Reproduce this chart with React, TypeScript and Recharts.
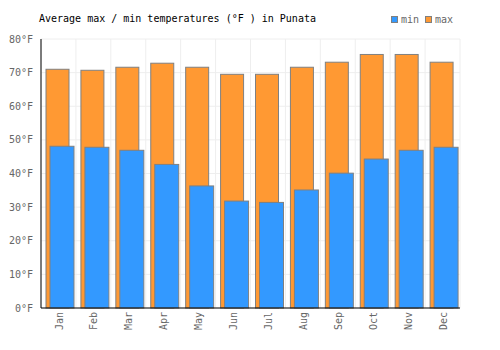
import { Bar, BarChart, CartesianGrid, XAxis, YAxis } from 'recharts'

const MONTHS = ['Jan', 'Feb', 'Mar', 'Apr', 'May', 'Jun', 'Jul', 'Aug', 'Sep', 'Oct', 'Nov', 'Dec']
const MAX_F = [71.0, 70.7, 71.6, 72.8, 71.6, 69.5, 69.5, 71.6, 73.1, 75.4, 75.4, 73.1]
const MIN_F = [48.1, 47.8, 46.9, 42.7, 36.3, 31.8, 31.4, 35.1, 40.1, 44.3, 46.9, 47.8]
const Y_TICKS = [0, 10, 20, 30, 40, 50, 60, 70, 80]

const BLUE = '#3399ff'
const ORANGE = '#ff9933'
const EDGE = '#808080'
const FONT = '"DejaVu Sans Mono", monospace'

const data = MONTHS.map((m, i) => ({ month: m, max: MAX_F[i], min: MIN_F[i] }))

// nudge the overlapped pair a bit to the right, like the original
function ShiftedBar(props: any) {
  const { x, y, width, height, fill } = props
  if (height == null || height <= 0) return null
  return <rect x={x + 2} y={y} width={width} height={height} fill={fill} stroke={EDGE} strokeWidth={1} />
}

function LegendItem({ color, label, left }: { color: string; label: string; left: number }) {
  return (
    <div style={{ position: 'absolute', left, top: 14, display: 'flex', alignItems: 'center', gap: 3 }}>
      <span style={{ width: 5, height: 5, background: color, border: `1px solid ${EDGE}` }} />
      <span>{label}</span>
    </div>
  )
}

export default function App() {
  return (
    <div style={{ position: 'fixed', left: 0, top: 0, width: 500, height: 350, background: '#fff', fontFamily: FONT }}>
      <div style={{ position: 'absolute', left: 39, top: 13, fontSize: 10, color: '#000' }}>
        Average max / min temperatures (°F ) in Punata
      </div>
      <div style={{ fontSize: 10, color: '#666' }}>
        <LegendItem color={BLUE} label="min" left={391} />
        <LegendItem color={ORANGE} label="max" left={425} />
      </div>
      <BarChart
        width={500}
        height={350}
        data={data}
        margin={{ top: 39, right: 40, bottom: 0, left: 0 }}
        barGap={-19}
        barCategoryGap={0}
        style={{ position: 'absolute', left: 0, top: 0 }}
      >
        <CartesianGrid
          stroke="#eeeeee"
          verticalCoordinatesGenerator={({ offset }: any) =>
            MONTHS.map((_, i) => offset.left + (offset.width * i) / MONTHS.length).concat(offset.left + offset.width)
          }
        />
        <XAxis
          dataKey="month"
          height={42}
          interval={0}
          axisLine={{ stroke: '#000' }}
          tickLine={false}
          angle={-90}
          textAnchor="end"
          dy={-4}
          dx={-3}
          tick={{ fill: '#666', fontSize: 10, fontFamily: FONT }}
        />
        <YAxis
          width={41}
          domain={[0, 80]}
          ticks={Y_TICKS}
          interval={0}
          tickFormatter={(v: number) => `${v}°F`}
          axisLine={{ stroke: '#000' }}
          tickLine={false}
          tick={{ fill: '#666', fontSize: 10, fontFamily: FONT }}
        />
        <Bar dataKey="max" fill={ORANGE} barSize={23} shape={ShiftedBar} isAnimationActive={false} />
        <Bar dataKey="min" fill={BLUE} barSize={24} shape={ShiftedBar} isAnimationActive={false} />
      </BarChart>
    </div>
  )
}
